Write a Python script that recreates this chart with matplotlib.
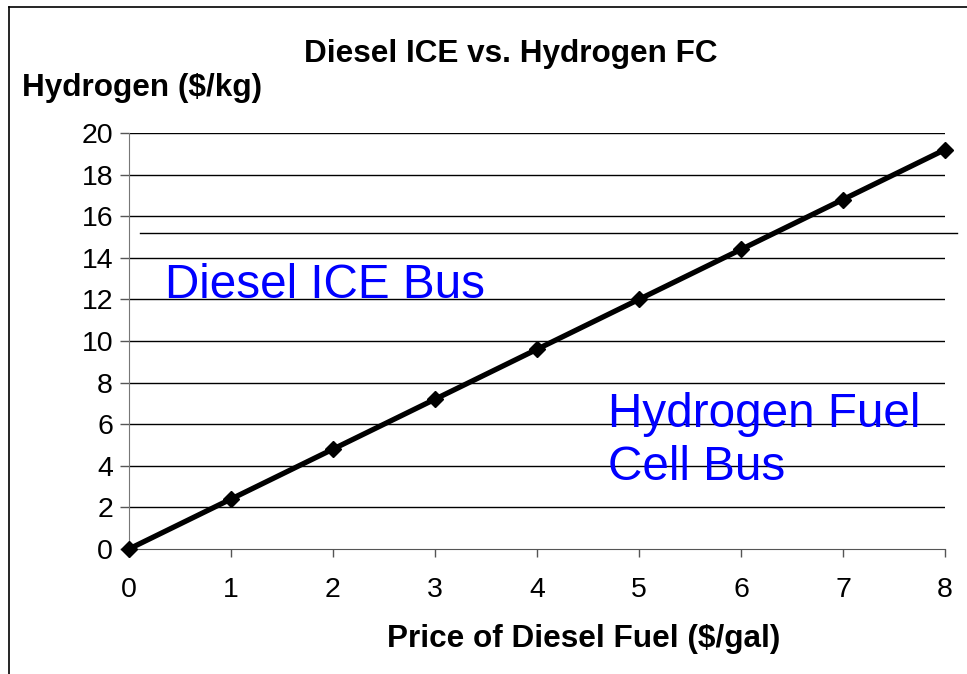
import matplotlib
matplotlib.use("Agg")
import matplotlib.pyplot as plt
from matplotlib.lines import Line2D

# data
diesel_price = [0, 1, 2, 3, 4, 5, 6, 7, 8]
hydrogen_price = [0, 2.4, 4.8, 7.2, 9.6, 12.0, 14.4, 16.8, 19.2]
x_ticks = [0, 1, 2, 3, 4, 5, 6, 7, 8]
y_ticks = [0, 2, 4, 6, 8, 10, 12, 14, 16, 18, 20]
stray_line_level = 15.2

plt.rcParams['font.family'] = ['Liberation Sans', 'DejaVu Sans']

fig = plt.figure(figsize=(9.67, 6.74), dpi=100, facecolor='white')
ax = fig.add_axes([0.1334, 0.1855, 0.8438, 0.6172])

# chart frame (left and top edges only visible)
fig.add_artist(Line2D([0.0093, 0.0093], [0, 0.9896], color='black', lw=1.2))
fig.add_artist(Line2D([0.0093, 1.0], [0.9896, 0.9896], color='black', lw=1.2))

# gridlines
for y in y_ticks[1:]:
    ax.axhline(y, color='black', lw=1.0, zorder=1)
ax.axhline(stray_line_level, xmin=0.0135, xmax=1.0147, color='black', lw=1.0,
           clip_on=False, zorder=1)

ax.plot(diesel_price, hydrogen_price, color='black', lw=3.8, marker='D',
        markersize=8.5, zorder=3, clip_on=False)

ax.set_xlim(0, 8)
ax.set_ylim(0, 20)
ax.set_xticks(x_ticks)
ax.set_yticks(y_ticks)
ax.tick_params(axis='both', labelsize=20.5, colors='#555555', labelcolor='black',
               width=1)
ax.tick_params(axis='x', length=6, pad=14.5)
ax.tick_params(axis='y', length=6.5, pad=5)
for s in ['top', 'right']:
    ax.spines[s].set_visible(False)
ax.spines['left'].set_color('#777777')
ax.spines['bottom'].set_color('#555555')

ax.text(0.35, 12.05, 'Diesel ICE Bus', color='#0000FF', fontsize=34.3,
        ha='left', va='baseline')
ax.text(4.7, 5.87, 'Hydrogen Fuel', color='#0000FF', fontsize=34.3,
        ha='left', va='baseline')
ax.text(4.7, 3.32, 'Cell Bus', color='#0000FF', fontsize=34.3,
        ha='left', va='baseline')

fig.text(0.528, 0.908, 'Diesel ICE vs. Hydrogen FC', fontsize=22.7,
         fontweight='bold', ha='center', va='baseline')
fig.text(0.0228, 0.8576, 'Hydrogen ($/kg)', fontsize=22.7, fontweight='bold',
         ha='left', va='baseline')
fig.text(0.604, 0.040, 'Price of Diesel Fuel ($/gal)', fontsize=22.7,
         fontweight='bold', ha='center', va='baseline')

fig.savefig('out.png', dpi=100, facecolor='white')
